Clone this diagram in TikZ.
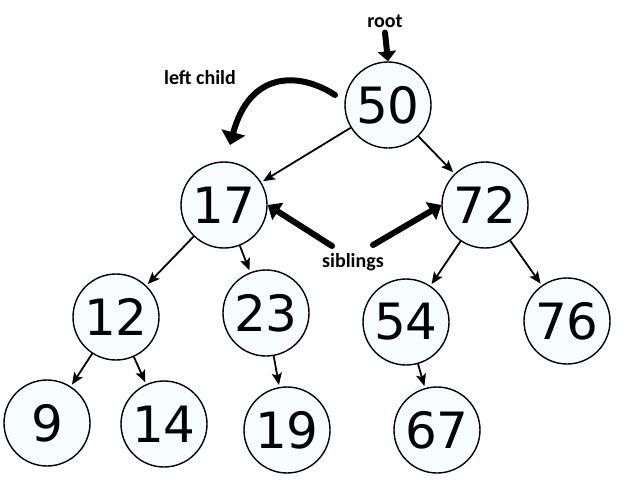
\documentclass[tikz,border=0pt]{standalone}
\usepackage{fontspec}
\newfontfamily\numfont{DejaVu Sans}
\newfontfamily\notefont{Carlito}
\usetikzlibrary{arrows.meta}
\definecolor{nodefill}{RGB}{247,252,255}
\begin{document}
\begin{tikzpicture}[x=1pt,y=-1pt,
  key/.style={circle,draw=black,line width=1.4pt,fill=nodefill,
    minimum size=86pt,inner sep=0pt,font=\numfont\fontsize{50}{50}\selectfont},
  edge/.style={line width=1.8pt,-{Stealth[length=12pt,width=10pt,inset=2.5pt]},shorten >=2pt},
  note/.style={font=\notefont\bfseries\fontsize{20}{22}\selectfont,inner sep=0pt},
  pointer/.style={line width=6pt,line cap=round,-{Triangle[length=13pt,width=24pt]}}]
\useasboundingbox (0,0) rectangle (640,480);

% keys of the search tree
\node[key] (n50) at (388,105) {50};
\node[key] (n17) at (224,205) {17};
\node[key] (n72) at (485,205) {72};
\node[key] (n12) at (116,317) {12};
\node[key] (n23) at (266,313) {23};
\node[key] (n54) at (406,322) {54};
\node[key] (n76) at (567,321) {76};
\node[key] (n9)  at (47,423)  {9};
\node[key] (n14) at (164,424) {14};
\node[key] (n19) at (287,430) {19};
\node[key] (n67) at (437,430) {67};

% parent -> child links
\draw[edge] (n50) -- (n17);
\draw[edge] (n50) -- (n72);
\draw[edge] (n17) -- (n12);
\draw[edge] (n17) -- (n23);
\draw[edge] (n72) -- (n54);
\draw[edge] (n72) -- (n76);
\draw[edge] (n12) -- (n9);
\draw[edge] (n12) -- (n14);
\draw[edge] (n23) -- (n19);
\draw[edge] (n54) -- (n67);

% annotations
\node[note] (root) at (385,21) {root};
\node[note] (lchild) at (200,78) {left child};
\node[note] (sib) at (353,262) {siblings};

\draw[pointer,-{Triangle[length=10pt,width=18pt]}] (root.south) ++(0,5) coordinate (r0) (r0) -- (n50.north);
\draw[pointer] (335,95) .. controls (300,72) and (250,70) .. (230,145);
\draw[pointer,-{Triangle[length=12pt,width=20pt]}] (332,246) -- (n17.east);
\draw[pointer,-{Triangle[length=12pt,width=20pt]}] (373,245) -- (n72.west);
\end{tikzpicture}
\end{document}
